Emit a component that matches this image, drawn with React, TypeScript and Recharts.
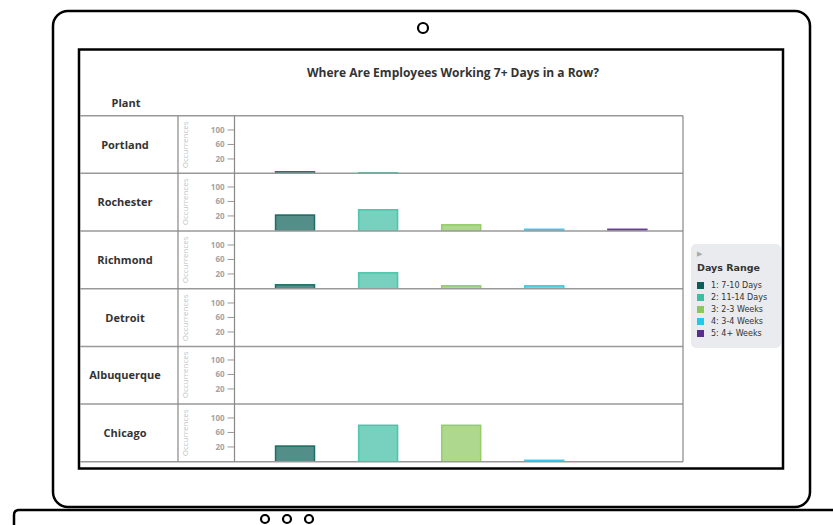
import React from 'react'
import { BarChart, Bar, Cell, XAxis, YAxis } from 'recharts'

// Facets (rows) and categories
const PLANTS = ['Portland', 'Rochester', 'Richmond', 'Detroit', 'Albuquerque', 'Chicago']
const RANGES = ['1: 7-10 Days', '2: 11-14 Days', '3: 2-3 Weeks', '4: 3-4 Weeks', '5: 4+ Weeks']
const COLORS = ['#0b5e57', '#3dbea3', '#8bc75c', '#2ec3e8', '#5a2e91']

// Axis
const Y_TICKS = [20, 60, 100]
const Y_MIN = -20.6
const Y_MAX = 138.6

// Occurrences read off each row (null = no bar)
const PORTLAND = [-15.1, -17.8, null, null, null]
const ROCHESTER = [22.7, 37.3, -4.1, -17, -17]
const RICHMOND = [-9.6, 23.5, -12.3, -12.3, null]
const DETROIT = [null, null, null, null, null]
const ALBUQUERQUE = [null, null, null, null, null]
const CHICAGO = [22.7, 79.8, 79.8, -16.5, null]

const ROWS = [PORTLAND, ROCHESTER, RICHMOND, DETROIT, ALBUQUERQUE, CHICAGO]

const FONT = '"Open Sans", "DejaVu Sans", sans-serif'
const TABLE_TOP = 115.7
const ROW_H = 57.67
const LEFT = 80
const COL1 = 178
const COL2 = 234.5
const RIGHT = 683

function OccurrencesLabel(props: any) {
    const { x, y, height } = props.viewBox
    const cx = x + 6
    const cy = y + height / 2
    return (
        <text
            x={cx}
            y={cy}
            transform={`rotate(-90 ${cx} ${cy})`}
            textAnchor="middle"
            dominantBaseline="central"
            fontSize={8}
            fontFamily={FONT}
            fill="#c4c4c4"
        >
            Occurrences
        </text>
    )
}

function FacetRow({ values, index }: { values: (number | null)[]; index: number }) {
    const data = RANGES.map((range, i) => ({ range, value: values[i] }))
    return (
        <div style={{ position: 'absolute', left: COL1, top: TABLE_TOP + index * ROW_H }}>
            <BarChart
                width={RIGHT - COL1}
                height={ROW_H}
                data={data}
                margin={{ top: 0, right: 0, bottom: 0, left: 0 }}
                barSize={39}
            >
                <XAxis dataKey="range" hide padding={{ left: 19, right: 14 }} />
                <YAxis
                    width={COL2 - COL1}
                    domain={[Y_MIN, Y_MAX]}
                    ticks={Y_TICKS}
                    allowDataOverflow
                    axisLine={false}
                    tickSize={7}
                    tickMargin={3}
                    tickLine={{ stroke: '#999' }}
                    tick={{ fontSize: 8, fontWeight: 700, fill: '#a3a3a3', fontFamily: FONT }}
                    label={<OccurrencesLabel />}
                />
                <Bar
                    dataKey={(d: any) => (d.value == null ? null : [Y_MIN, d.value])}
                    isAnimationActive={false}
                    strokeWidth={1.5}
                >
                    {data.map((entry, i) => (
                        <Cell
                            key={`cell-${i}`}
                            fill={COLORS[i]}
                            fillOpacity={0.7}
                            stroke={COLORS[i]}
                            strokeOpacity={0.85}
                        />
                    ))}
                </Bar>
            </BarChart>
        </div>
    )
}

export default function App() {
    const bottom = TABLE_TOP + PLANTS.length * ROW_H
    return (
        <div
            style={{
                position: 'fixed',
                left: 0,
                top: 0,
                width: 833,
                height: 525,
                background: '#fff',
                fontFamily: FONT,
                overflow: 'hidden',
            }}
        >
            {/* laptop frame */}
            <svg width={833} height={525} style={{ position: 'absolute', left: 0, top: 0 }}>
                <rect x={53} y={11} width={757} height={496} rx={15} fill="#fff" stroke="#000" strokeWidth={2.5} />
                <circle cx={423} cy={28} r={5} fill="none" stroke="#000" strokeWidth={2.2} />
                <rect x={79} y={49.5} width={704} height={419} fill="#fff" stroke="#000" strokeWidth={2.5} />
                <path d="M 14 525 L 14 515 Q 14 510 19 510 L 833 510" fill="none" stroke="#000" strokeWidth={2.5} />
                {[265, 287, 309].map((x) => (
                    <circle key={x} cx={x} cy={519} r={4} fill="none" stroke="#000" strokeWidth={2.2} />
                ))}
            </svg>

            <div
                style={{
                    position: 'absolute',
                    left: 253,
                    width: 400,
                    top: 64,
                    textAlign: 'center',
                    fontSize: 12,
                    fontWeight: 700,
                    color: '#333',
                }}
            >
                Where Are Employees Working 7+ Days in a Row?
            </div>
            <div
                style={{
                    position: 'absolute',
                    left: LEFT,
                    width: 92,
                    top: 95,
                    textAlign: 'center',
                    fontSize: 11,
                    fontWeight: 700,
                    color: '#333',
                }}
            >
                Plant
            </div>

            {PLANTS.map((p, i) => (
                <div
                    key={p}
                    style={{
                        position: 'absolute',
                        left: LEFT,
                        width: 90,
                        top: TABLE_TOP + i * ROW_H,
                        height: ROW_H,
                        lineHeight: `${ROW_H}px`,
                        textAlign: 'center',
                        fontSize: 11,
                        fontWeight: 700,
                        color: '#333',
                    }}
                >
                    {p}
                </div>
            ))}

            {ROWS.map((vals, i) => (
                <FacetRow key={PLANTS[i]} values={vals} index={i} />
            ))}

            {/* table grid */}
            <svg width={833} height={525} style={{ position: 'absolute', left: 0, top: 0, pointerEvents: 'none' }}>
                {Array.from({ length: PLANTS.length + 1 }, (_, i) => (
                    <line
                        key={i}
                        x1={LEFT}
                        x2={RIGHT}
                        y1={TABLE_TOP + i * ROW_H}
                        y2={TABLE_TOP + i * ROW_H}
                        stroke="#999"
                        strokeWidth={1.5}
                    />
                ))}
                {[COL1, COL2, RIGHT].map((x) => (
                    <line key={x} x1={x} x2={x} y1={TABLE_TOP} y2={bottom} stroke="#888" strokeWidth={1.2} />
                ))}
            </svg>

            {/* legend */}
            <div
                style={{
                    position: 'absolute',
                    left: 691,
                    top: 244,
                    width: 90,
                    height: 104,
                    background: '#e9ebee',
                    borderRadius: 5,
                    fontFamily: '"DejaVu Sans", sans-serif',
                    color: '#333',
                }}
            >
                <div style={{ position: 'absolute', left: 6, top: 6, fontSize: 7, color: '#aaa' }}>▶</div>
                <div style={{ position: 'absolute', left: 6, top: 18, fontSize: 9.5, fontWeight: 700 }}>Days Range</div>
                {RANGES.map((r, i) => (
                    <div key={r} style={{ position: 'absolute', left: 6, top: 36 + i * 12, height: 10, display: 'flex', alignItems: 'center' }}>
                        <div style={{ width: 7, height: 7, background: COLORS[i], marginRight: 7 }} />
                        <span style={{ fontSize: 8 }}>{r}</span>
                    </div>
                ))}
            </div>
        </div>
    )
}
